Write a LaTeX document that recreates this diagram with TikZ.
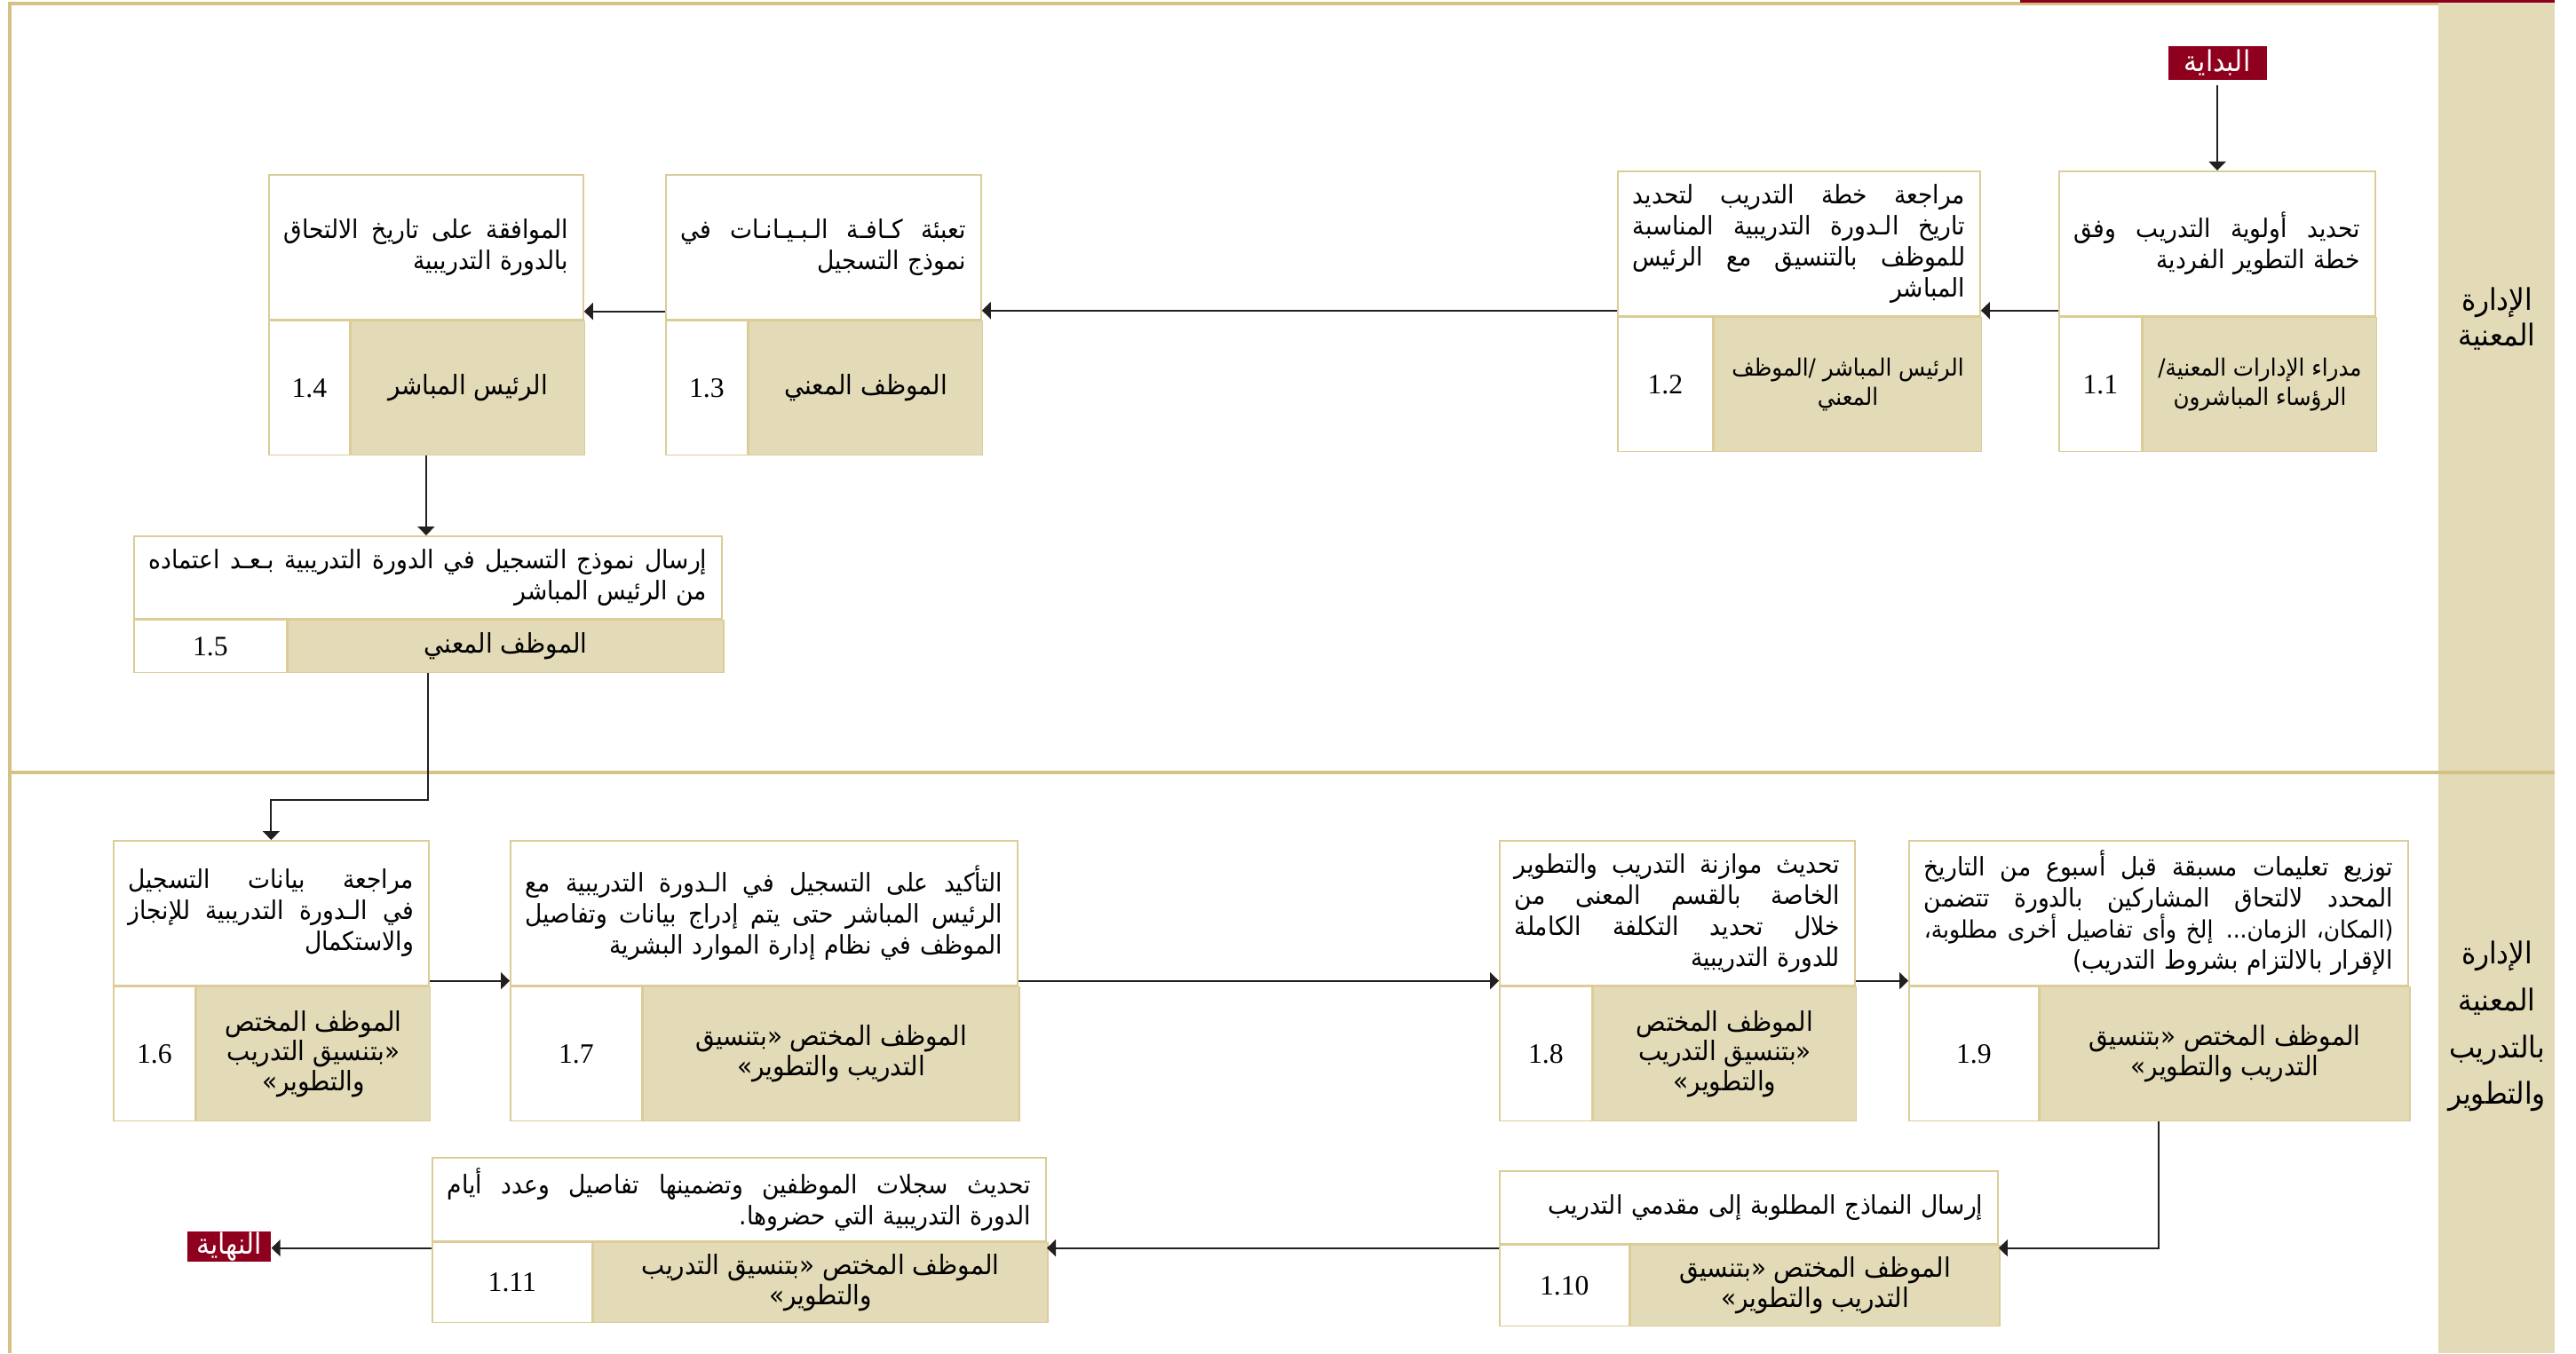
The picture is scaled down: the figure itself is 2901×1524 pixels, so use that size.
\documentclass[tikz,border=0pt]{standalone}
\usepackage{fontspec}
\usetikzlibrary{arrows.meta, positioning}
\TeXXeTstate=1
\newfontfamily\arabicfont[Script=Arabic, FakeStretch=0.92]{DejaVu Sans}
\newfontfamily\numfont{Liberation Serif}
\definecolor{lanetan}{RGB}{227,218,183}
\definecolor{framegold}{RGB}{212,194,132}
\definecolor{boxgold}{RGB}{219,204,152}
\definecolor{markred}{RGB}{143,0,30}
\definecolor{inkgray}{RGB}{35,31,32}
\newcommand{\rl}[1]{\beginR#1\endR}
% justified right-to-left line
\newcommand{\jl}[1]{\leavevmode\hbox to\hsize{\spaceskip=\fontdimen2\font plus 1fil\beginR#1\endR}}

\begin{document}
\begin{tikzpicture}[
    x=0.01cm, y=-0.01cm,
    txtbox/.style={draw=boxgold, line width=0.45pt, fill=white, anchor=north west,
                   inner xsep=0.17cm, inner ysep=0pt, align=right,
                   font=\arabicfont\fontsize{8.2}{10}\selectfont},
    numbox/.style={draw=boxgold, line width=0.45pt, fill=white, inner sep=0pt,
                   font=\numfont\fontsize{9}{10}\selectfont},
    rolebox/.style={draw=boxgold, line width=0.45pt, fill=lanetan, inner sep=0pt,
                    align=center, font=\arabicfont\fontsize{8.6}{9.6}\selectfont},
    endmark/.style={fill=markred, text=white, inner sep=0pt,
                    font=\arabicfont\fontsize{9.2}{10}\selectfont},
    lanelabel/.style={align=center, font=\arabicfont\fontsize{9.6}{11.4}\selectfont},
    frame/.style={draw=framegold, line width=0.9pt},
    arrow/.style={-{Triangle[length=0.1cm, width=0.19cm]}, line width=0.55pt, draw=inkgray}
]
    \useasboundingbox (0,0) rectangle (2901,1524);
    % lanes
    \fill[lanetan] (2746,0) rectangle (2877,1524);
    \draw[frame] (11,1524) -- (11,4) -- (2746,4);
    \draw[frame] (11,870) -- (2877,870);
    \draw[draw=markred, line width=0.85pt] (2275,1.5) -- (2877,1.5);
    \node[lanelabel] (lane1) at (2812,359) {\rl{الإدارة}\\ \rl{المعنية}};
    \node[lanelabel, font=\arabicfont\fontsize{9.6}{15}\selectfont] (lane2) at (2812,1156)
        {\rl{الإدارة}\\ \rl{المعنية}\\ \rl{بالتدريب}\\ \rl{والتطوير}};

    % start / end
    \node[endmark, minimum width=1.11cm, minimum height=0.37cm] (startb) at (2497,71) {\rl{البداية}};
    \node[endmark, minimum width=0.94cm, minimum height=0.34cm] (endb) at (258,1404) {\rl{النهاية}};

    % 1.1
    \node[txtbox, text width=3.22cm, minimum height=1.63cm] (t11) at (2318,192)
        {\jl{تحديد أولوية التدريب وفق}\\ \rl{خطة التطوير الفردية}};
    \node[numbox, minimum width=0.93cm, minimum height=1.51cm, below right=0pt and 0pt of t11.south west] (n11) {1.1};
    \node[rolebox, minimum width=2.63cm, minimum height=1.51cm, right=0pt of n11,
          font=\arabicfont\fontsize{7.6}{9.6}\selectfont] (r11)
        {\rl{مدراء الإدارات المعنية/}\\ \rl{الرؤساء المباشرون}};
    % 1.2
    \node[txtbox, text width=3.74cm, minimum height=1.63cm] (t12) at (1821,192)
        {\jl{مراجعة خطة التدريب لتحديد}\\ \jl{تاريخ الـدورة التدريبية المناسبة}\\
         \jl{للموظف بالتنسيق مع الرئيس}\\ \rl{المباشر}};
    \node[numbox, minimum width=1.07cm, minimum height=1.51cm, below right=0pt and 0pt of t12.south west] (n12) {1.2};
    \node[rolebox, minimum width=3.01cm, minimum height=1.51cm, right=0pt of n12,
          font=\arabicfont\fontsize{7.6}{9.6}\selectfont] (r12)
        {\rl{الرئيس المباشر /الموظف}\\ \rl{المعني}};
    % 1.3
    \node[txtbox, text width=3.21cm, minimum height=1.63cm] (t13) at (749,196)
        {\jl{تعبئة كـافـة الـبـيـانـات في}\\ \rl{نموذج التسجيل}};
    \node[numbox, minimum width=0.92cm, minimum height=1.51cm, below right=0pt and 0pt of t13.south west] (n13) {1.3};
    \node[rolebox, minimum width=2.63cm, minimum height=1.51cm, right=0pt of n13] (r13) {\rl{الموظف المعني}};
    % 1.4
    \node[txtbox, text width=3.20cm, minimum height=1.63cm] (t14) at (302,196)
        {\jl{الموافقة على تاريخ الالتحاق}\\ \rl{بالدورة التدريبية}};
    \node[numbox, minimum width=0.91cm, minimum height=1.51cm, below right=0pt and 0pt of t14.south west] (n14) {1.4};
    \node[rolebox, minimum width=2.63cm, minimum height=1.51cm, right=0pt of n14] (r14) {\rl{الرئيس المباشر}};
    % 1.5
    \node[txtbox, text width=6.28cm, minimum height=0.93cm] (t15) at (150,603)
        {\jl{إرسال نموذج التسجيل في الدورة التدريبية بـعـد اعتماده}\\ \rl{من الرئيس المباشر}};
    \node[numbox, minimum width=1.72cm, minimum height=0.59cm, below right=0pt and 0pt of t15.south west] (n15) {1.5};
    \node[rolebox, minimum width=4.90cm, minimum height=0.59cm, right=0pt of n15] (r15) {\rl{الموظف المعني}};

    % 1.6
    \node[txtbox, text width=3.21cm, minimum height=1.63cm] (t16) at (127,946)
        {\jl{مراجعة بيانات التسجيل}\\ \jl{في الـدورة التدريبية للإنجاز}\\ \rl{والاستكمال}};
    \node[numbox, minimum width=0.92cm, minimum height=1.51cm, below right=0pt and 0pt of t16.south west] (n16) {1.6};
    \node[rolebox, minimum width=2.63cm, minimum height=1.51cm, right=0pt of n16] (r16)
        {\rl{الموظف المختص}\\ \rl{«بتنسيق التدريب}\\ \rl{والتطوير»}};
    % 1.7
    \node[txtbox, text width=5.37cm, minimum height=1.63cm] (t17) at (574,946)
        {\jl{التأكيد على التسجيل في الـدورة التدريبية مع}\\ \jl{الرئيس المباشر حتى يتم إدراج بيانات وتفاصيل}\\
         \rl{الموظف في نظام إدارة الموارد البشرية}};
    \node[numbox, minimum width=1.48cm, minimum height=1.51cm, below right=0pt and 0pt of t17.south west] (n17) {1.7};
    \node[rolebox, minimum width=4.23cm, minimum height=1.51cm, right=0pt of n17] (r17)
        {\rl{الموظف المختص «بتنسيق}\\ \rl{التدريب والتطوير»}};
    % 1.8
    \node[txtbox, text width=3.66cm, minimum height=1.63cm] (t18) at (1688,946)
        {\jl{تحديث موازنة التدريب والتطوير}\\ \jl{الخاصة بالقسم المعنى من}\\
         \jl{خلال تحديد التكلفة الكاملة}\\ \rl{للدورة التدريبية}};
    \node[numbox, minimum width=1.04cm, minimum height=1.51cm, below right=0pt and 0pt of t18.south west] (n18) {1.8};
    \node[rolebox, minimum width=2.96cm, minimum height=1.51cm, right=0pt of n18] (r18)
        {\rl{الموظف المختص}\\ \rl{«بتنسيق التدريب}\\ \rl{والتطوير»}};
    % 1.9
    \node[txtbox, text width=5.28cm, minimum height=1.63cm] (t19) at (2149,946)
        {\jl{توزيع تعليمات مسبقة قبل أسبوع من التاريخ}\\ \jl{المحدد لالتحاق المشاركين بالدورة تتضمن}\\
         \jl{\fontsize{7.7}{10}\selectfont(المكان، الزمان... إلخ وأى تفاصيل أخرى مطلوبة،}\\
         \rl{الإقرار بالالتزام بشروط التدريب)}};
    \node[numbox, minimum width=1.46cm, minimum height=1.51cm, below right=0pt and 0pt of t19.south west] (n19) {1.9};
    \node[rolebox, minimum width=4.16cm, minimum height=1.51cm, right=0pt of n19] (r19)
        {\rl{الموظف المختص «بتنسيق}\\ \rl{التدريب والتطوير»}};
    % 1.10
    \node[txtbox, text width=5.27cm, minimum height=0.82cm] (t110) at (1688,1318)
        {\rl{إرسال النماذج المطلوبة إلى مقدمي التدريب}};
    \node[numbox, minimum width=1.46cm, minimum height=0.91cm, below right=0pt and 0pt of t110.south west] (n110) {1.10};
    \node[rolebox, minimum width=4.15cm, minimum height=0.91cm, right=0pt of n110] (r110)
        {\rl{الموظف المختص «بتنسيق}\\ \rl{التدريب والتطوير»}};
    % 1.11
    \node[txtbox, text width=6.57cm, minimum height=0.94cm] (t111) at (486,1303)
        {\jl{تحديث سجلات الموظفين وتضمينها تفاصيل وعدد أيام}\\ \rl{الدورة التدريبية التي حضروها.}};
    \node[numbox, minimum width=1.80cm, minimum height=0.90cm, below right=0pt and 0pt of t111.south west] (n111) {1.11};
    \node[rolebox, minimum width=5.11cm, minimum height=0.90cm, right=0pt of n111] (r111)
        {\rl{الموظف المختص «بتنسيق التدريب}\\ \rl{والتطوير»}};

    % connectors
    \coordinate (a11) at ([yshift=0.07cm]t11.south west);
    \coordinate (a12) at ([yshift=0.07cm]t12.south west);
    \coordinate (a13) at ([yshift=0.1cm]t13.south west);
    \coordinate (a16) at ([yshift=0.06cm]t16.south east);
    \coordinate (a17) at ([yshift=0.06cm]t17.south east);
    \coordinate (a18) at ([yshift=0.06cm]t18.south east);
    \coordinate (a110) at ([yshift=-0.04cm]t110.south west);
    \draw[arrow, shorten <=0.06cm] (startb) -- (startb |- t11.north);
    \draw[arrow] (a11) -- (a11 -| t12.east);
    \draw[arrow] (a12) -- (a12 -| t13.east);
    \draw[arrow] (a13) -- (a13 -| t14.east);
    \draw[arrow] (t14.south |- r14.south) -- (t14.south |- t15.north);
    \draw[arrow] (t15.south |- r15.south) -- ++(0,143) -| (t16.north);
    \draw[arrow] (a16) -- (a16 -| t17.west);
    \draw[arrow] (a17) -- (a17 -| t18.west);
    \draw[arrow] (a18) -- (a18 -| t19.west);
    \draw[arrow] (t19.south |- r19.south) |- (a110 -| t110.east);
    \draw[arrow] (a110) -- (a110 -| t111.east);
    \draw[arrow] (a110 -| t111.west) -- (a110 -| endb.east);
\end{tikzpicture}
\end{document}
